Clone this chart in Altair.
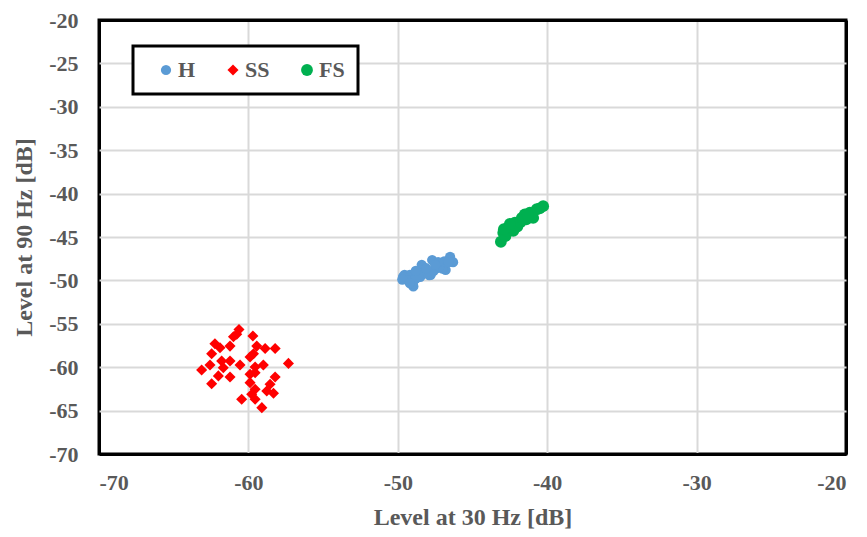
import altair as alt
import pandas as pd

# Series values
h_x = [-49.55, -49.4, -49.2, -48.96, -48.6, -48.4, -48.2, -47.8, -47.7, -47.4, -47.06, -46.8, -46.5, -46.3,
       -49.65, -49.0, -47.9, -47.0, -49.3, -48.8, -48.5, -48.0, -47.6, -47.2, -46.9, -47.3, -48.1, -48.8,
       -49.7, -49.2, -46.6, -47.5]
h_y = [-49.35, -49.7, -49.35, -50.7, -49.35, -48.2, -49.0, -49.35, -47.65, -48.6, -48.2, -48.8, -47.3, -47.9,
       -49.6, -50.4, -49.4, -48.65, -50.0, -49.8, -49.6, -49.2, -48.9, -48.4, -47.8, -47.9, -48.6, -48.9,
       -49.9, -50.3, -47.9, -48.2]

ss_x = [-60.63, -60.78, -61.0, -59.7, -62.24, -61.9, -61.23, -62.46, -59.44, -58.88, -58.21, -59.66, -59.89,
        -61.79, -61.23, -62.57, -60.56, -57.32, -63.13, -61.68, -59.55, -59.0, -59.89, -62.01, -61.23, -59.55,
        -58.21, -62.46, -58.55, -59.89, -59.55, -58.77, -58.32, -59.78, -60.45, -59.55, -59.1]
ss_y = [-55.65, -56.2, -56.5, -56.4, -57.3, -57.76, -57.57, -58.45, -57.57, -57.84, -57.84, -58.45, -58.83,
        -59.29, -59.29, -59.75, -59.75, -59.56, -60.33, -60.06, -59.98, -59.75, -60.82, -61.0, -61.13, -60.63,
        -61.13, -61.9, -61.97, -61.78, -62.55, -62.74, -63.0, -63.12, -63.7, -63.7, -64.66]

fs_x = [-43.1, -42.94, -42.6, -42.27, -42.16, -41.7, -41.4, -41.16, -40.94, -40.7, -40.27, -42.8, -41.94, -41.5,
        -42.7, -42.4, -42.0, -41.8, -41.6, -41.2, -41.0, -40.5, -42.9, -42.5, -41.3]
fs_y = [-45.55, -44.5, -43.9, -44.3, -43.35, -42.8, -42.97, -42.2, -42.8, -41.8, -41.45, -44.9, -43.5, -42.4,
        -44.3, -43.9, -43.8, -43.3, -43.0, -42.7, -42.4, -41.7, -44.1, -43.5, -42.5]

series_names = ["H", "SS", "FS"]
series_colors = ["#5B9BD5", "#FF0000", "#00B050"]
series_shapes = ["circle", "diamond", "circle"]
series_sizes = [105, 140, 105]

x_ticks = [-70, -60, -50, -40, -30, -20]
y_ticks = [-70, -65, -60, -55, -50, -45, -40, -35, -30, -25, -20]

rows = []
for name, xs, ys in [("SS", ss_x, ss_y), ("H", h_x, h_y), ("FS", fs_x, fs_y)]:
    for a, b in zip(xs, ys):
        rows.append({"series": name, "x": a, "y": b})
df = pd.DataFrame(rows)

FONT = "Liberation Serif"
GREY = "#595959"
EDGE = "datum.value == -70 || datum.value == -20"
grid_color = {"condition": {"test": EDGE, "value": "black"}, "value": "#d9d9d9"}
grid_width = {"condition": {"test": EDGE, "value": 3}, "value": 2}

chart = alt.Chart(df).mark_point(filled=True, opacity=1, strokeWidth=0).encode(
    x=alt.X("x:Q",
            scale=alt.Scale(domain=[-70, -20], nice=False, zero=False),
            axis=alt.Axis(values=x_ticks, title="Level at 30 Hz [dB]",
                          labelExpr="'' + datum.value",
                          gridColor=grid_color, gridWidth=grid_width,
                          labelPadding=18, titleY=63, titleBaseline="middle")),
    y=alt.Y("y:Q",
            scale=alt.Scale(domain=[-70, -20], nice=False, zero=False),
            axis=alt.Axis(values=y_ticks, title="Level at 90 Hz [dB]",
                          labelExpr="'' + datum.value",
                          gridColor=grid_color, gridWidth=grid_width,
                          labelPadding=21, titleX=-75, titleBaseline="middle")),
    color=alt.Color("series:N",
                    scale=alt.Scale(domain=series_names, range=series_colors),
                    legend=alt.Legend(title=None, orient="none", legendX=34, legendY=26,
                                      direction="horizontal", columns=3,
                                      strokeColor="black", padding=13,
                                      symbolOffset=9, labelOffset=1, columnPadding=17,
                                      symbolSize=100, symbolStrokeWidth=0,
                                      labelExpr="datum.label == 'FS' ? 'FS\u00a0\u00a0' : datum.label",
                                      labelFont=FONT, labelFontSize=22, labelFontWeight="bold",
                                      labelColor=GREY, fillColor="white")),
    shape=alt.Shape("series:N",
                    scale=alt.Scale(domain=series_names, range=series_shapes)),
    size=alt.Size("series:N",
                  scale=alt.Scale(domain=series_names, range=series_sizes),
                  legend=None),
).properties(
    width=747, height=434,
    autosize=alt.AutoSizeParams(type="none"),
    padding={"left": 91, "top": 12, "right": 13, "bottom": 80},
).configure_view(
    stroke="black", strokeWidth=3,
).configure_legend(
    strokeWidth=3,
).configure_axis(
    domain=False, ticks=False,
    grid=True,
    labelFont=FONT, labelFontSize=22, labelFontWeight="bold", labelColor=GREY,
    titleFont=FONT, titleFontSize=24, titleFontWeight="bold", titleColor=GREY,
)

chart.save("out.html", embed_options={"renderer": "svg", "actions": False})
